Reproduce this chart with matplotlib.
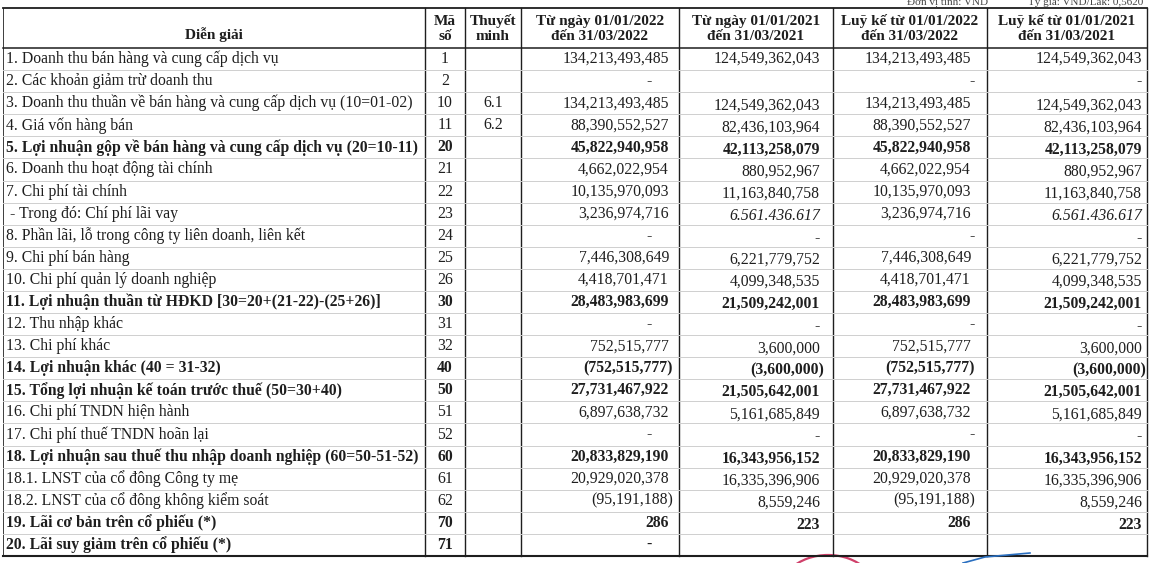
import numpy as np
import matplotlib.pyplot as plt
from matplotlib.patches import Arc

plt.rcParams['font.family'] = ['Liberation Serif', 'DejaVu Serif']

# ---- du lieu ----
chi_tieu = [
    "1. Doanh thu bán hàng và cung cấp dịch vụ",
    "2. Các khoản giảm trừ doanh thu",
    "3. Doanh thu thuần về bán hàng và cung cấp dịch vụ (10=01-02)",
    "4. Giá vốn hàng bán",
    "5. Lợi nhuận gộp về bán hàng và cung cấp dịch vụ (20=10-11)",
    "6. Doanh thu hoạt động tài chính",
    "7. Chi phí tài chính",
    " - Trong đó: Chí phí lãi vay",
    "8. Phần lãi, lỗ trong công ty liên doanh, liên kết",
    "9. Chi phí bán hàng",
    "10. Chi phí quản lý doanh nghiệp",
    "11. Lợi nhuận thuần từ HĐKD [30=20+(21-22)-(25+26)]",
    "12. Thu nhập khác",
    "13. Chi phí khác",
    "14. Lợi nhuận khác (40 = 31-32)",
    "15. Tổng lợi nhuận kế toán trước thuế (50=30+40)",
    "16. Chi phí TNDN hiện hành",
    "17. Chi phí thuế TNDN hoãn lại",
    "18. Lợi nhuận sau thuế thu nhập doanh nghiệp (60=50-51-52)",
    "18.1. LNST của cổ đông Công ty mẹ",
    "18.2. LNST của cổ đông không kiểm soát",
    "19. Lãi cơ bản trên cổ phiếu (*)",
    "20. Lãi suy giảm trên cổ phiếu (*)",
]
ma_so = ["1", "2", "10", "11", "20", "21", "22", "23", "24", "25", "26", "30",
         "31", "32", "40", "50", "51", "52", "60", "61", "62", "70", "71"]
thuyet_minh = ["", "", "6.1", "6.2"] + [""] * 19
q1_2022 = ["134,213,493,485", "-", "134,213,493,485", "88,390,552,527",
           "45,822,940,958", "4,662,022,954", "10,135,970,093", "3,236,974,716",
           "-", "7,446,308,649", "4,418,701,471", "28,483,983,699", "-",
           "752,515,777", "(752,515,777)", "27,731,467,922", "6,897,638,732",
           "-", "20,833,829,190", "20,929,020,378", "(95,191,188)", "286", "-"]
q1_2021 = ["124,549,362,043", "", "124,549,362,043", "82,436,103,964",
           "42,113,258,079", "880,952,967", "11,163,840,758", "6.561.436.617",
           "-", "6,221,779,752", "4,099,348,535", "21,509,242,001", "-",
           "3,600,000", "(3,600,000)", "21,505,642,001", "5,161,685,849",
           "-", "16,343,956,152", "16,335,396,906", "8,559,246", "223", ""]
lk_2022 = ["134,213,493,485", "-", "134,213,493,485", "88,390,552,527",
           "45,822,940,958", "4,662,022,954", "10,135,970,093", "3,236,974,716",
           "-", "7,446,308,649", "4,418,701,471", "28,483,983,699", "-",
           "752,515,777", "(752,515,777)", "27,731,467,922", "6,897,638,732",
           "-", "20,833,829,190", "20,929,020,378", "(95,191,188)", "286", ""]
lk_2021 = ["124,549,362,043", "-", "124,549,362,043", "82,436,103,964",
           "42,113,258,079", "880,952,967", "11,163,840,758", "6.561.436.617",
           "-", "6,221,779,752", "4,099,348,535", "21,509,242,001", "-",
           "3,600,000", "(3,600,000)", "21,505,642,001", "5,161,685,849",
           "-", "16,343,956,152", "16,335,396,906", "8,559,246", "223", ""]
dong_dam = [4, 11, 14, 15, 18, 21, 22]
dong_nghieng = [7]   # chi in nghieng o cot 2021

tieu_de = ["Diễn giải", "Mã\nsố", "Thuyết\nminh",
           "Từ ngày 01/01/2022\nđến 31/03/2022",
           "Từ ngày 01/01/2021\nđến 31/03/2021",
           "Luỹ kế từ 01/01/2022\nđến 31/03/2022",
           "Luỹ kế từ 01/01/2021\nđến 31/03/2021"]

# ---- bo cuc (pixel) ----
W, H = 1151, 563
cot = [3, 425, 465, 521, 679, 833, 987, 1147]
y_top, y_head = 8, 48
n = len(chi_tieu)
y_bot = 556
h = (y_bot - y_head) / n
fs = 11.3

fig = plt.figure(figsize=(W / 100, H / 100), dpi=100)
ax = fig.add_axes([0, 0, 1, 1])
ax.set_xlim(0, W)
ax.set_ylim(H, 0)
ax.axis('off')

ink = '#1e1e1e'

# duong ke
ax.plot([cot[0], cot[-1]], [y_top, y_top], color=ink, lw=1.3)
ax.plot([cot[0], cot[-1]], [y_head, y_head], color=ink, lw=1.1)
ax.plot([cot[0], cot[-1]], [y_bot, y_bot], color=ink, lw=1.5)
for x in cot:
    ax.plot([x, x], [y_top, y_bot], color=ink, lw=1.0 if x != cot[0] else 0.6)
for i in range(1, n):
    y = y_head + i * h
    ax.plot([cot[0], cot[-1]], [y, y], color='#cfcfcf', lw=0.7)

# tieu de
for j, t in enumerate(tieu_de):
    xc = (cot[j] + cot[j + 1]) / 2
    yc = 35 if j == 0 else (y_top + y_head) / 2 + 1
    ax.text(xc, yc, t, ha='center', va='center', fontsize=fs - 0.3,
            fontweight='bold', color=ink, linespacing=1.2)

ax.text(948, 7, "Đơn vị tính: VND", ha='center', va='bottom', fontsize=8, color='#444444')
ax.text(1143, 7, "Tỷ giá: VND/Lak: 0,5620", ha='right', va='bottom', fontsize=8, color='#444444')

# noi dung
pad_so = [10, 13, 16, 5]
pad_gach = [27, 13, 12, 5]
cot_so = [q1_2022, q1_2021, lk_2022, lk_2021]
for i in range(n):
    yc = y_head + (i + 0.5) * h
    wt = 'bold' if i in dong_dam else 'normal'
    ax.text(cot[0] + 3, yc, chi_tieu[i], ha='left', va='center', fontsize=fs,
            fontweight=wt, color=ink)
    ax.text((cot[1] + cot[2]) / 2, yc, ma_so[i], ha='center', va='center',
            fontsize=fs, fontweight=wt, color=ink)
    ax.text((cot[2] + cot[3]) / 2, yc, thuyet_minh[i], ha='center', va='center',
            fontsize=fs, color=ink)
    for k, vals in enumerate(cot_so):
        v = vals[i]
        if not v:
            continue
        dy = 2 if (k in (1, 3) and i > 1) else 0
        if v == "-":
            x = cot[4 + k] - pad_gach[k]
        else:
            x = cot[4 + k] - pad_so[k]
            if v.endswith(")"):
                x += 4
        st = 'italic' if (i in dong_nghieng and k in (1, 3)) else 'normal'
        ax.text(x, yc + dy, v, ha='right', va='center', fontsize=fs,
                fontweight=wt, fontstyle=st, color=ink)

# dau do va chu ky (mot phan)
ax.add_patch(Arc((828, 595), 100, 80, theta1=215, theta2=325, color='#d0406a', lw=1.6))
ax.plot([963, 985, 1030], [563, 557, 553], color='#2a6fc0', lw=1.2)

fig.savefig("out.png", dpi=100)
